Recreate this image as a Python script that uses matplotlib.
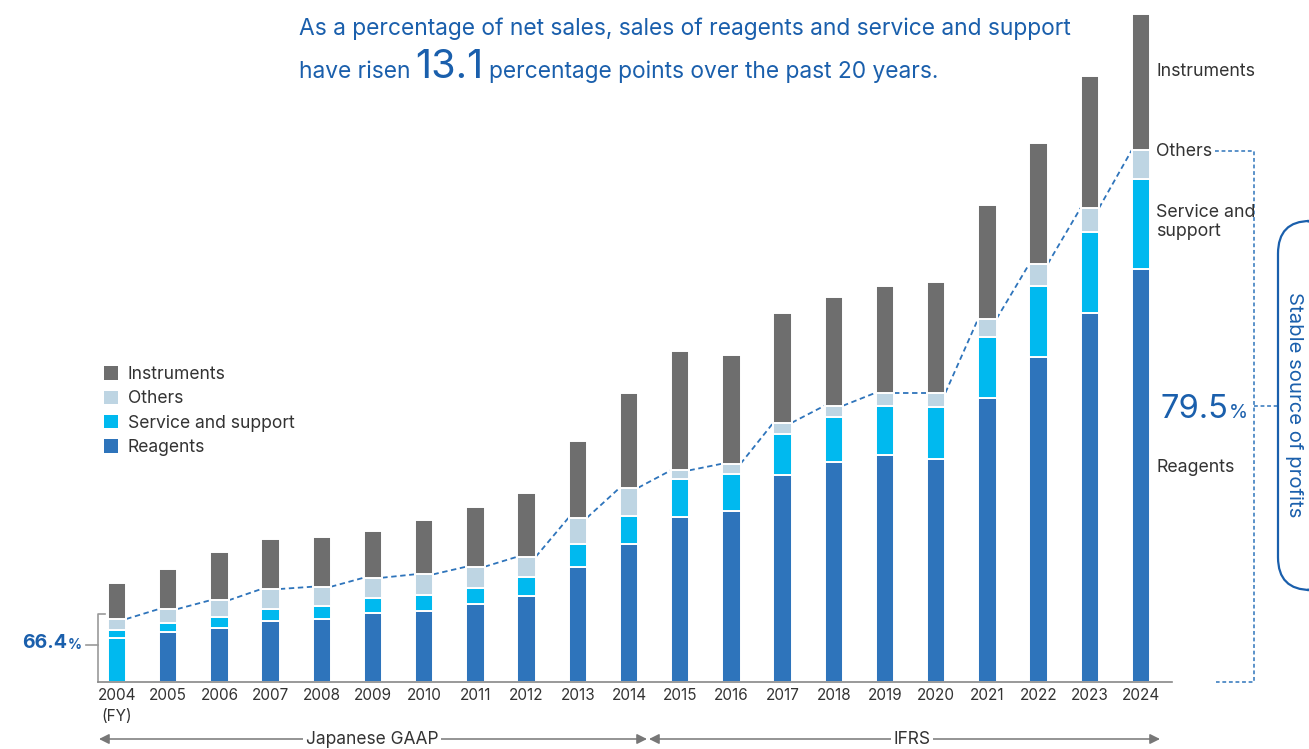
import matplotlib
matplotlib.use("Agg")
import matplotlib.pyplot as plt
from matplotlib.patches import FancyBboxPatch, Patch
import numpy as np

plt.rcParams['font.family'] = ['Inter', 'DejaVu Sans']

years = ['2004', '2005', '2006', '2007', '2008', '2009', '2010', '2011', '2012', '2013', '2014',
         '2015', '2016', '2017', '2018', '2019', '2020', '2021', '2022', '2023', '2024']
reagents = [44.3, 49.7, 53.7, 60.7, 63.0, 68.7, 71.3, 77.7, 86.0, 115.0, 137.7,
            165.3, 171.3, 207.0, 219.7, 226.7, 222.7, 283.7, 325.0, 369.0, 412.7]
service = [7.4, 9.3, 11.0, 12.6, 12.7, 15.3, 16.0, 16.6, 18.7, 23.3, 28.6,
           37.7, 37.0, 41.0, 45.6, 49.3, 52.3, 61.0, 71.3, 81.0, 89.9]
others = [11.3, 14.0, 17.0, 19.7, 19.6, 20.3, 20.4, 21.0, 20.6, 26.0, 28.0,
          8.7, 10.0, 11.3, 11.0, 13.3, 14.3, 18.6, 22.0, 24.0, 29.3]
instruments = [35.7, 40.0, 48.6, 50.0, 49.4, 46.4, 54.0, 59.7, 64.0, 76.4, 95.0,
               119.3, 108.7, 109.7, 108.4, 106.7, 110.4, 113.7, 120.4, 132.3, 136.3]
share_start = '66.4'
share_end = '79.5'
rise = '13.1'

C_INST = '#6e6e6e'
C_OTH = '#bed5e3'
C_SERV = '#00b9ef'
C_REAG = '#2e74bb'
BLUE = '#1a5fac'
TXT = '#333333'

W, H = 1309, 749
fig = plt.figure(figsize=(W / 100, H / 100), dpi=100)
ax = fig.add_axes([0, 0, 1, 1])
X0, DX, BASE = 117.0, 51.2, 682.0
ax.set_xlim(-X0 / DX, (W - X0) / DX)
ax.set_ylim(-(H - BASE), BASE)
ax.axis('off')


def fx(px):
    return px / W


def fy(py):
    return 1 - py / H


x = np.arange(len(years))
reag = np.array(reagents)
serv = np.array(service)
oth = np.array(others)
inst = np.array(instruments)
bw = 0.36
reag_colors = [C_SERV] + [C_REAG] * (len(years) - 1)
kw = dict(width=bw, edgecolor='white', linewidth=1.4, zorder=3)
ax.bar(x, reag, color=reag_colors, **kw)
ax.bar(x, serv, bottom=reag, color=C_SERV, **kw)
ax.bar(x, oth, bottom=reag + serv, color=C_OTH, **kw)
ax.bar(x, inst, bottom=reag + serv + oth, color=C_INST, **kw)

# axis baseline
ax.plot([(98 - X0) / DX, (1172 - X0) / DX], [0, 0], color='#888888', lw=1.2, zorder=4)

# dashed connecting line on top of "others"
top = reag + serv + oth
for i in range(len(years) - 1):
    ax.plot([x[i] + bw / 2, x[i + 1] - bw / 2], [top[i], top[i + 1]],
            color=C_REAG, lw=1.3, ls=(0, (3, 2)), zorder=2)

# year labels
for i, yr in enumerate(years):
    ax.text(x[i], -6, yr, ha='center', va='top', fontsize=11, color=TXT)
ax.text(x[0], -27, '(FY)', ha='center', va='top', fontsize=11, color=TXT)

# left bracket
ax.plot([(105 - X0) / DX, (98 - X0) / DX, (98 - X0) / DX], [BASE - 614, BASE - 614, 0],
        color='#999999', lw=1.2)
ax.plot([(86 - X0) / DX, (98 - X0) / DX], [BASE - 645, BASE - 645], color='#999999', lw=1.2)
t1 = fig.text(fx(22), fy(643), share_start, fontsize=14, color=BLUE, fontweight='bold',
              ha='left', va='center')
fig.canvas.draw()
bb = t1.get_window_extent()
fig.text(bb.x1 / W + 0.0005, fy(645), '%', fontsize=10, color=BLUE, fontweight='bold',
         ha='left', va='center')

# right labels
for lab, py in [('Instruments', 71), ('Others', 152), ('Service and\nsupport', 222), ('Reagents', 467)]:
    fig.text(fx(1156), fy(py), lab, fontsize=12.8, color=TXT, ha='left', va='center',
             linespacing=1.1)
t2 = fig.text(fx(1160), fy(410), share_end, fontsize=23.5, color=BLUE, ha='left', va='center')
fig.canvas.draw()
bb = t2.get_window_extent()
fig.text(bb.x1 / W + 0.001, fy(413), '%', fontsize=14, color=BLUE, ha='left', va='center')

# right dashed bracket
ls = (0, (2.5, 1.8))
fig.add_artist(plt.Line2D([fx(1215), fx(1254), fx(1254), fx(1216)],
                          [fy(151), fy(151), fy(682), fy(682)], color=C_REAG, lw=1.1, ls=ls))
fig.add_artist(plt.Line2D([fx(1254), fx(1277)], [fy(406), fy(406)], color=C_REAG, lw=1.1, ls=ls))

# rounded box
box = FancyBboxPatch((fx(1278), fy(590)), fx(1340) - fx(1278), fy(221) - fy(590),
                     boxstyle='round,pad=0,rounding_size=0.025', transform=fig.transFigure,
                     facecolor='none', edgecolor=BLUE, lw=1.6, mutation_aspect=W / H)
fig.add_artist(box)
fig.text(fx(1294), fy(405), 'Stable source of profits', rotation=-90, fontsize=14.6,
         color=BLUE, ha='center', va='center')

# headline
fig.text(fx(299), fy(29), 'As a percentage of net sales, sales of reagents and service and support',
         fontsize=16.4, color=BLUE, ha='left', va='center')
h1 = fig.text(fx(299), fy(72), 'have risen', fontsize=16.4, color=BLUE, ha='left', va='center')
fig.canvas.draw()
bb = h1.get_window_extent()
h2 = fig.text(bb.x1 / W + 5 / W, fy(67), rise, fontsize=28.5, color=BLUE, ha='left', va='center')
fig.canvas.draw()
bb = h2.get_window_extent()
fig.text(bb.x1 / W + 5 / W, fy(72), 'percentage points over the past 20 years.', fontsize=16.4,
         color=BLUE, ha='left', va='center')

# legend
handles = [Patch(facecolor=C_INST, label='Instruments'),
           Patch(facecolor=C_OTH, label='Others'),
           Patch(facecolor=C_SERV, label='Service and support'),
           Patch(facecolor=C_REAG, label='Reagents')]
fig.legend(handles=handles, loc='upper left', bbox_to_anchor=(fx(104), fy(366)), frameon=False,
           fontsize=12.6, handlelength=0.8, handleheight=0.8, handletextpad=0.55, labelspacing=0.42,
           labelcolor=TXT, borderpad=0, borderaxespad=0)

# bottom accounting-standard arrows
GRAY = '#777777'
for x1, x2, lab, lx in [(99, 647, 'Japanese GAAP', 372), (649, 1160, 'IFRS', 912)]:
    fig.add_artist(matplotlib.patches.FancyArrowPatch(
        (fx(x1), fy(739)), (fx(x2), fy(739)), transform=fig.transFigure,
        arrowstyle='<|-|>,head_length=6,head_width=3', color=GRAY, lw=1.1, shrinkA=0, shrinkB=0))
    fig.text(fx(lx), fy(739), lab, fontsize=12.5, color=TXT, ha='center', va='center',
             bbox=dict(facecolor='white', edgecolor='none', pad=2))

fig.savefig('out.png', dpi=100)
